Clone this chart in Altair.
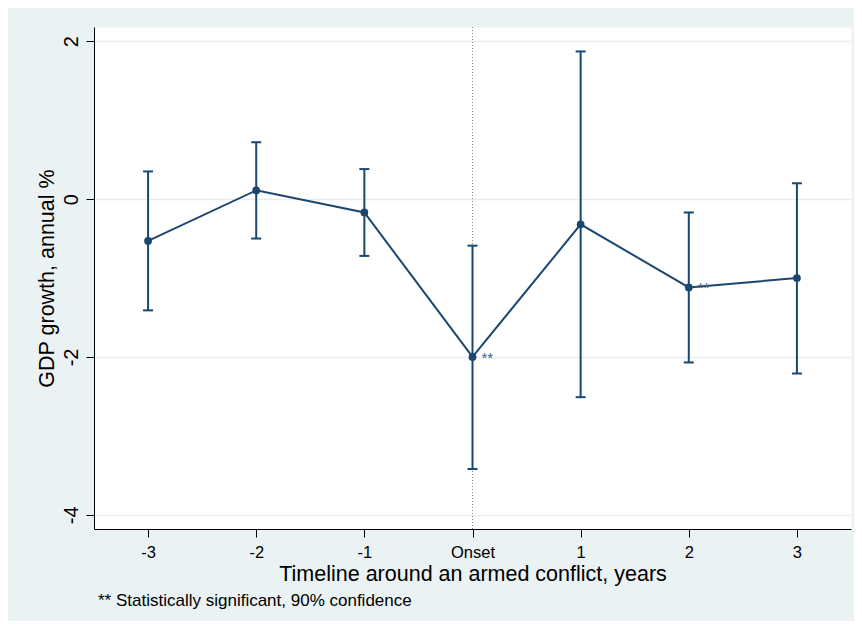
import altair as alt
import pandas as pd

# Data
periods = [-3, -2, -1, 0, 1, 2, 3]
coef = [-0.53, 0.11, -0.17, -2.00, -0.32, -1.12, -1.00]
ci_low = [-1.41, -0.50, -0.72, -3.42, -2.51, -2.07, -2.21]
ci_high = [0.35, 0.72, 0.38, -0.59, 1.87, -0.17, 0.20]
signif = ["", "", "", "**", "", "**", ""]
x_ticks = [-3, -2, -1, 0, 1, 2, 3]
y_ticks = [-4, -2, 0, 2]
onset = [0]
footnote = "** Statistically significant, 90% confidence"
x_title = "Timeline around an armed conflict, years"
y_title = "GDP growth, annual %"

NAVY = "#1a476f"
BG = "#eaf2f3"
FONT = "Liberation Sans"

df = pd.DataFrame({"t": periods, "b": coef, "lo": ci_low, "hi": ci_high, "sig": signif})
df_on = pd.DataFrame({"t": onset})

xs = alt.Scale(domain=[-3.5, 3.5], nice=False, zero=False)
ys = alt.Scale(domain=[-4.18, 2.18], nice=False, zero=False)

x_axis = alt.Axis(
    values=x_ticks, title=x_title, grid=False,
    labelExpr="datum.value === 0 ? 'Onset' : '' + datum.value",
    labelFontSize=16.5, labelPadding=7, titleFontSize=21.5, titlePadding=3,
    labelFont=FONT, titleFont=FONT, titleFontWeight="normal",
)
y_axis = alt.Axis(
    values=y_ticks, title=y_title, grid=True,
    labelExpr="'' + datum.value",
    labelAngle=-90, labelAlign="center", labelBaseline="alphabetic",
    labelFontSize=20, labelPadding=9, titleFontSize=21.5, titlePadding=3,
    labelFont=FONT, titleFont=FONT, titleFontWeight="normal",
)

base = alt.Chart(df)

rule_on = alt.Chart(df_on).mark_rule(color="#8a8a8a", strokeDash=[1, 2], strokeWidth=1).encode(
    x=alt.X("t:Q", scale=xs, axis=x_axis)
)

bars = base.mark_rule(color=NAVY, strokeWidth=2).encode(
    x=alt.X("t:Q", scale=xs),
    y=alt.Y("lo:Q", scale=ys, axis=y_axis),
    y2="hi:Q",
)
cap_lo = base.mark_tick(color=NAVY, orient="horizontal", size=10, thickness=2, opacity=1).encode(
    x=alt.X("t:Q", scale=xs), y=alt.Y("lo:Q", scale=ys)
)
cap_hi = base.mark_tick(color=NAVY, orient="horizontal", size=10, thickness=2, opacity=1).encode(
    x=alt.X("t:Q", scale=xs), y=alt.Y("hi:Q", scale=ys)
)
line = base.mark_line(color=NAVY, strokeWidth=2).encode(
    x=alt.X("t:Q", scale=xs), y=alt.Y("b:Q", scale=ys)
)
pts = base.mark_circle(color=NAVY, size=60, opacity=1).encode(
    x=alt.X("t:Q", scale=xs), y=alt.Y("b:Q", scale=ys)
)
stars = base.mark_text(color="#3f6284", fontSize=15, align="left", baseline="middle", dx=9, dy=1, font=FONT).encode(
    x=alt.X("t:Q", scale=xs), y=alt.Y("b:Q", scale=ys), text="sig:N"
)
note = alt.Chart(pd.DataFrame({"txt": [footnote]})).mark_text(
    align="left", baseline="alphabetic", fontSize=17, font=FONT, color="black"
).encode(x=alt.value(4), y=alt.value(579), text="txt:N")

chart = alt.layer(rule_on, bars, cap_lo, cap_hi, line, pts, stars, note).properties(
    width=757, height=502,
    autosize=alt.AutoSizeParams(type="none"),
    padding={"left": 86, "top": 19, "right": 3, "bottom": 92},
    background=BG,
).configure_view(
    fill="white", stroke="transparent"
).configure_axis(
    domainColor="black", domainWidth=1, tickColor="black", tickWidth=1, tickSize=8,
    labelColor="black", titleColor="black", gridColor="#e6eef0", gridWidth=1.5,
)

chart.save("out.html", embed_options={"renderer": "svg", "actions": False})
